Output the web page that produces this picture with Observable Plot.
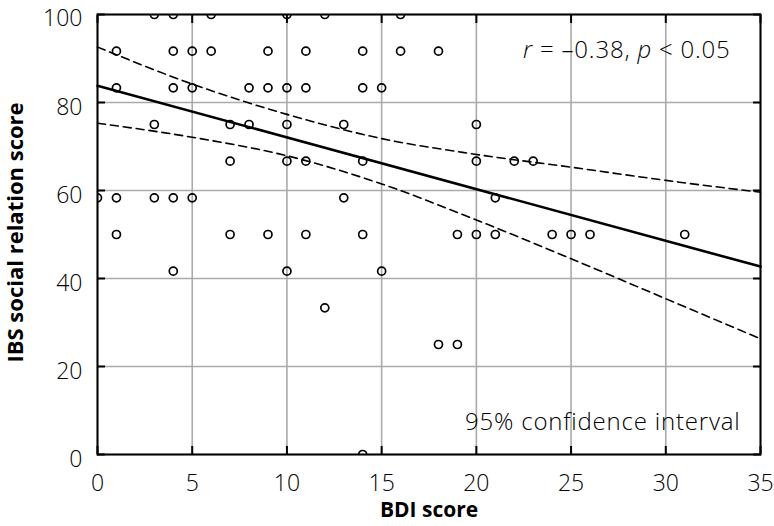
<!DOCTYPE html>
<html><head><meta charset="utf-8">
<script src="https://cdn.jsdelivr.net/npm/d3@7"></script>
<script src="https://cdn.jsdelivr.net/npm/@observablehq/plot@0.6"></script>
<style>body{margin:0;background:#fff}</style>
</head><body><div id="chart"></div>
<script>
// Scatter data (BDI score, IBS social relation score)
const bdi = [
  3,4,6,10,12,16,
  1,4,5,6,9,11,14,16,18,
  1,4,5,8,9,10,11,14,15,
  3,7,8,10,13,20,
  7,10,11,14,20,22,23,
  0,1,3,4,5,13,21,
  1,7,9,11,14,19,20,21,24,25,26,31,
  4,10,15,
  12,
  18,19,
  14
];
const ibs = [
  100,100,100,100,100,100,
  91.67,91.67,91.67,91.67,91.67,91.67,91.67,91.67,91.67,
  83.33,83.33,83.33,83.33,83.33,83.33,83.33,83.33,83.33,
  75,75,75,75,75,75,
  66.67,66.67,66.67,66.67,66.67,66.67,66.67,
  58.33,58.33,58.33,58.33,58.33,58.33,58.33,
  50,50,50,50,50,50,50,50,50,50,50,50,
  41.67,41.67,41.67,
  33.33,
  25,25,
  0
];
// Regression line
const fitX = [0, 35];
const fitY = [83.8, 42.7];
// 95% confidence band
const ciX = [0, 5, 10, 15, 20, 25, 30, 35];
const ciUpper = [92.6, 84.2, 77.3, 71.8, 68.2, 65.3, 62.3, 59.6];
const ciLower = [75.3, 72.1, 67.9, 61.5, 53.3, 44.5, 35.4, 26.3];
// Axes
const xTicks = [0, 5, 10, 15, 20, 25, 30, 35];
const yTicks = [0, 20, 40, 60, 80, 100];
const yTicksLow = [0, 20, 40, 60, 80];
const yTicksTop = [100];
const xLabel = "BDI score";
const yLabel = "IBS social relation score";
const statText = "r = \u20130.38, p < 0.05";
const ciText = "95% confidence interval";

const font = "'Open Sans', sans-serif";
const chart = Plot.plot({
  width: 774, height: 526,
  marginLeft: 97, marginRight: 14, marginTop: 14, marginBottom: 72,
  style: {fontFamily: font, fontSize: "23px", background: "#fff", color: "#000"},
  x: {domain: [0, 35]},
  y: {domain: [0, 100]},
  marks: [
    Plot.gridX(xTicks, {stroke: "#aaa", strokeOpacity: 1, strokeWidth: 1.6}),
    Plot.gridY(yTicks, {stroke: "#aaa", strokeOpacity: 1, strokeWidth: 1.6}),
    Plot.axisX(xTicks, {anchor: "bottom", tickSize: 0, tickPadding: 20, label: null, fontWeight: 300}),
    Plot.axisX(xTicks, {anchor: "bottom", tickSize: -8, tickFormat: () => "", label: null, strokeWidth: 2}),
    Plot.axisX(xTicks, {anchor: "top", tickSize: -8, tickFormat: () => "", label: null, strokeWidth: 2}),
    Plot.axisY(yTicksLow, {anchor: "left", tickSize: 0, tickPadding: 15, dy: 5, label: null, fontWeight: 300}),
    Plot.axisY(yTicksTop, {anchor: "left", tickSize: 0, tickPadding: 15, dy: 4, label: null, fontWeight: 300}),
    Plot.axisY(yTicks, {anchor: "left", tickSize: -8, tickFormat: () => "", label: null, strokeWidth: 2}),
    Plot.axisY(yTicks, {anchor: "right", tickSize: -8, tickFormat: () => "", label: null, strokeWidth: 2}),
    Plot.line(ciX, {x: ciX, y: ciUpper, curve: "monotone-x", stroke: "black", strokeWidth: 1.6, strokeDasharray: "8,5"}),
    Plot.line(ciX, {x: ciX, y: ciLower, curve: "monotone-x", stroke: "black", strokeWidth: 1.6, strokeDasharray: "8,5"}),
    Plot.line(fitX, {x: fitX, y: fitY, stroke: "black", strokeWidth: 2.6}),
    Plot.dot(bdi, {x: bdi, y: ibs, r: 4, stroke: "black", strokeWidth: 1.7, fill: "none", clip: "frame"}),
    Plot.frame({stroke: "black", strokeWidth: 2}),
    Plot.text([statText], {frameAnchor: "top-right", dx: -30, dy: 26, textAnchor: "end", fontSize: 24, fontWeight: 300}),
    Plot.text([ciText], {frameAnchor: "bottom-right", dx: -20, dy: -25, textAnchor: "end", fontSize: 24, fontWeight: 300}),
    Plot.text([xLabel], {frameAnchor: "bottom", dy: 62, fontSize: 21, fontWeight: "bold"}),
    Plot.text([yLabel], {frameAnchor: "left", dx: -82, rotate: -90, textAnchor: "middle", dy: -2, fontSize: 22, fontWeight: "bold"})
  ]
});

chart.querySelectorAll("text").forEach(t => {
  if (t.textContent === ciText) t.setAttribute("letter-spacing", "0.8");
  if (t.textContent === statText) {
    t.setAttribute("letter-spacing", "0.8");
    t.textContent = "";
    const parts = [["r", true], [" = \u20130.38, ", false], ["p", true], [" < 0.05", false]];
    for (const [s, it] of parts) {
      const ts = document.createElementNS("http://www.w3.org/2000/svg", "tspan");
      ts.textContent = s;
      if (it) ts.setAttribute("font-style", "italic");
      t.appendChild(ts);
    }
  }
});
document.getElementById("chart").appendChild(chart);
</script>
</body></html>
